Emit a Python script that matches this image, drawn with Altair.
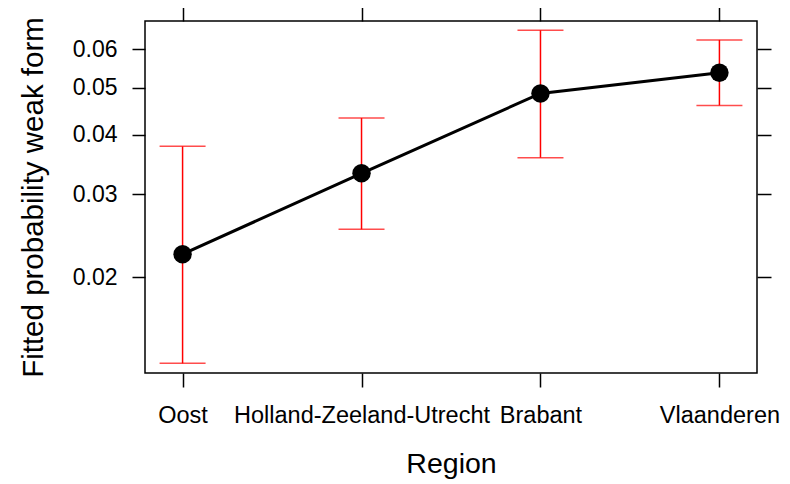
import math
import altair as alt
import pandas as pd

regions = ["Oost", "Holland-Zeeland-Utrecht", "Brabant", "Vlaanderen"]
fit = [0.0224, 0.0332, 0.0487, 0.0537]
lower = [0.0131, 0.0253, 0.0358, 0.0460]
upper = [0.0378, 0.0433, 0.0656, 0.0627]
y_ticks = [0.02, 0.03, 0.04, 0.05, 0.06]
y_range = [0.01249, 0.0685]


def logit(p):
    return math.log(p / (1 - p))


df = pd.DataFrame({"region": regions, "fit": fit, "lower": lower, "upper": upper})

font = "Liberation Sans"
label_expr = "format(1/(1+exp(-datum.value)), '.2f')"
xscale = alt.Scale(type="point", padding=0.21, domain=regions)
yscale = alt.Scale(domain=[logit(v) for v in y_range], nice=False, zero=False)
tick_vals = [logit(v) for v in y_ticks]

base = alt.Chart(df).transform_calculate(
    lfit="log(datum.fit/(1-datum.fit))",
    llo="log(datum.lower/(1-datum.lower))",
    lhi="log(datum.upper/(1-datum.upper))",
)

x_bottom = alt.Axis(
    orient="bottom", title="Region", labelAngle=0, tickSize=14, tickWidth=1.5,
    tickColor="black", domain=False, labelFont=font, labelFontSize=23.5,
    labelColor="black", labelPadding=16, labelLimit=1000, labelOverlap=False,
    titleFont=font, titleFontSize=28.5,
    titleFontWeight="normal", titleColor="black", titleBaseline="alphabetic",
    titleY=99, titleX=306,
)
y_left = alt.Axis(
    orient="left", title="Fitted probability weak form", values=tick_vals,
    labelExpr=label_expr, tickSize=13, tickWidth=1.5, tickColor="black",
    domain=False, grid=False, labelFont=font, labelFontSize=23, labelColor="black",
    labelPadding=15, titleFont=font, titleFontSize=29.5, titleFontWeight="normal",
    titleColor="black", titleBaseline="alphabetic", titleX=-103, titleY=176,
    titleAngle=-90, titleLimit=1000,
)
x_top = alt.Axis(orient="top", title=None, labels=False, tickSize=14,
                 tickWidth=1.5, tickColor="black", domain=False)
y_right = alt.Axis(orient="right", title=None, labels=False, values=tick_vals,
                   tickSize=14, tickWidth=1.5, tickColor="black", domain=False,
                   grid=False)

rules = base.mark_rule(color="#FF0000", strokeWidth=1.5).encode(
    x=alt.X("region:N", sort=regions, scale=xscale, axis=x_bottom),
    y=alt.Y("llo:Q", scale=yscale, axis=y_left),
    y2="lhi:Q",
)
cap_lo = base.mark_tick(color="#FF0000", size=46, thickness=1.5, orient="horizontal").encode(
    x=alt.X("region:N", sort=regions, scale=xscale, axis=None),
    y=alt.Y("llo:Q", scale=yscale, axis=None),
)
cap_hi = base.mark_tick(color="#FF0000", size=46, thickness=1.5, orient="horizontal").encode(
    x=alt.X("region:N", sort=regions, scale=xscale, axis=None),
    y=alt.Y("lhi:Q", scale=yscale, axis=None),
)
line = base.mark_line(color="black", strokeWidth=3).encode(
    x=alt.X("region:N", sort=regions, scale=xscale, axis=x_top),
    y=alt.Y("lfit:Q", scale=yscale, axis=y_right),
)
points = base.mark_point(filled=True, color="black", size=340, opacity=1).encode(
    x=alt.X("region:N", sort=regions, scale=xscale, axis=None),
    y=alt.Y("lfit:Q", scale=yscale, axis=None),
)

chart = alt.layer(rules, cap_lo, cap_hi, line, points).resolve_axis(
    x="independent", y="independent"
).properties(
    width=612, height=352,
    background="white",
    autosize=alt.AutoSizeParams(type="none"),
    padding={"left": 137, "top": 13, "right": 25, "bottom": 110},
).configure_view(stroke="black", strokeWidth=1.5)

chart.save("out.html", embed_options={"renderer": "svg", "actions": False})
